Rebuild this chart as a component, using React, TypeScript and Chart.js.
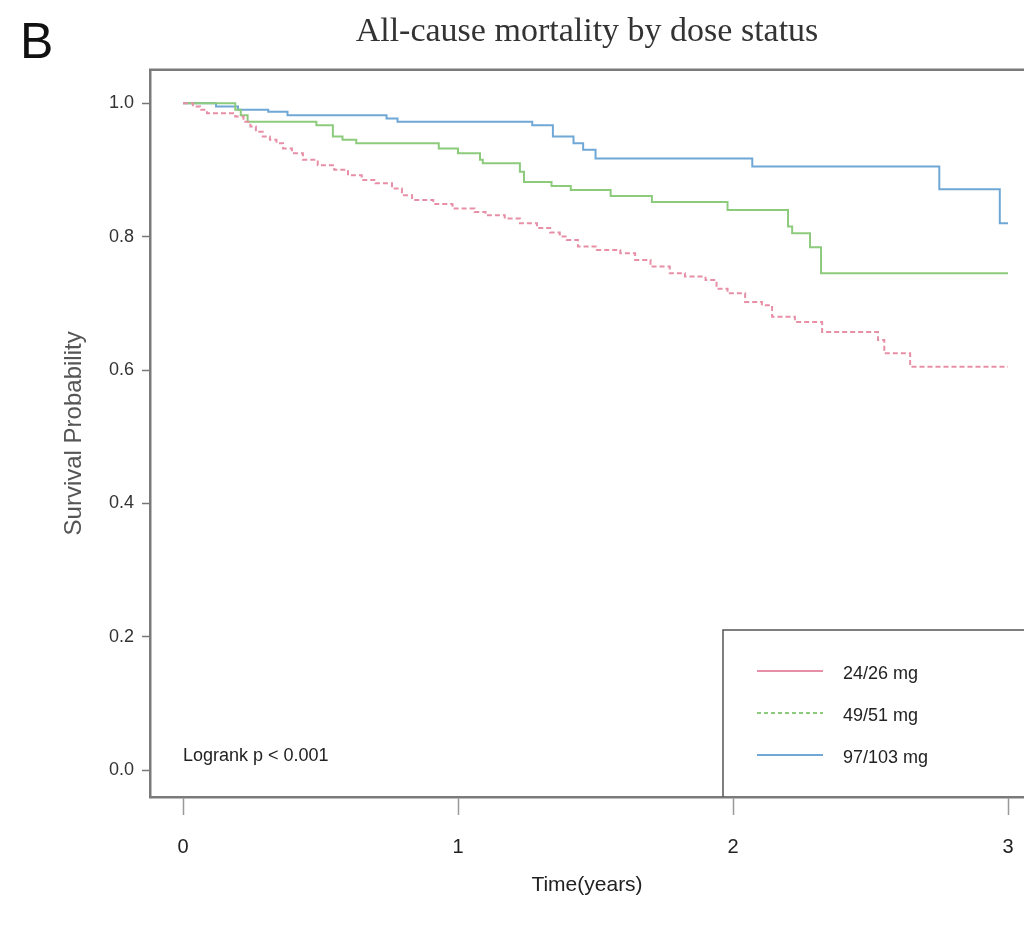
import React, { useEffect, useRef } from "react";
import { Chart, registerables } from "chart.js";

Chart.register(...registerables);

// ---------- data ----------
const chartTitle = "All-cause mortality by dose status";
const panelLabel = "B";
const xAxisTitle = "Time(years)";
const yAxisTitle = "Survival Probability";
const logrankText = "Logrank p < 0.001";

const xTicks = [0, 1, 2, 3];
const yTicks = [0, 0.2, 0.4, 0.6, 0.8, 1.0];

const seriesLabels = ["24/26 mg", "49/51 mg", "97/103 mg"];

// 24/26 mg
const lowTimes = [
  0, 0.036, 0.062, 0.087, 0.19, 0.22, 0.245, 0.265, 0.29, 0.316, 0.34, 0.364,
  0.396, 0.436, 0.49, 0.55, 0.6, 0.65, 0.7, 0.76, 0.796, 0.833, 0.91, 0.98,
  1.06, 1.1, 1.17, 1.225, 1.287, 1.335, 1.37, 1.396, 1.436, 1.505, 1.59, 1.644,
  1.7, 1.77, 1.825, 1.9, 1.94, 1.98, 2.044, 2.105, 2.142, 2.225, 2.324, 2.527,
  2.55, 2.644, 3.0,
];
const lowSurv = [
  1.0, 0.995, 0.99, 0.985, 0.98, 0.972, 0.965, 0.957, 0.95, 0.945, 0.94, 0.932,
  0.925, 0.915, 0.907, 0.9, 0.892, 0.885, 0.88, 0.872, 0.862, 0.855, 0.849, 0.842,
  0.837, 0.832, 0.827, 0.82, 0.813, 0.806, 0.8, 0.795, 0.785, 0.78, 0.775, 0.765,
  0.755, 0.745, 0.74, 0.735, 0.722, 0.715, 0.702, 0.697, 0.68, 0.672, 0.657, 0.645,
  0.625, 0.605, 0.605,
];

// 49/51 mg
const midTimes = [
  0, 0.19, 0.21, 0.235, 0.485, 0.545, 0.58, 0.63, 0.93, 1.0, 1.08, 1.09, 1.225,
  1.24, 1.34, 1.41, 1.555, 1.705, 1.98, 2.2, 2.215, 2.28, 2.32, 3.0,
];
const midSurv = [
  1.0, 0.99, 0.982, 0.972, 0.967, 0.95, 0.945, 0.94, 0.932, 0.925, 0.915, 0.91,
  0.897, 0.882, 0.876, 0.87, 0.861, 0.852, 0.84, 0.815, 0.805, 0.784, 0.745, 0.745,
];

// 97/103 mg
const highTimes = [
  0, 0.12, 0.2, 0.31, 0.38, 0.74, 0.78, 1.27, 1.345, 1.42, 1.455, 1.5, 2.07,
  2.75, 2.97, 3.0,
];
const highSurv = [
  1.0, 0.995, 0.99, 0.987, 0.982, 0.977, 0.972, 0.967, 0.95, 0.94, 0.93, 0.917,
  0.905, 0.871, 0.82, 0.82,
];

const seriesColors = ["#e68fa6", "#8ccb7c", "#6fa8d6"];
const plotDash = [[5, 3], [], []];
const legendDash = [[], [4, 3], []];

const SANS = '"Liberation Sans Narrow", "Liberation Sans", Arial, sans-serif';
const SERIF = '"Liberation Serif", "Times New Roman", serif';

const toPoints = (t: number[], s: number[]) => t.map((x, i) => ({ x, y: s[i] }));

const decorPlugin = {
  id: "decor",
  afterDraw(chart: any) {
    const { ctx, chartArea } = chart;
    ctx.save();
    // top frame line
    ctx.strokeStyle = "#7a7a7a";
    ctx.lineWidth = 2.5;
    ctx.beginPath();
    ctx.moveTo(chartArea.left - 1, chartArea.top);
    ctx.lineTo(chartArea.right, chartArea.top);
    ctx.stroke();

    // panel letter
    ctx.fillStyle = "#111";
    ctx.font = '50px "Liberation Sans", Arial, sans-serif';
    ctx.textAlign = "left";
    ctx.textBaseline = "alphabetic";
    ctx.fillText(panelLabel, 20, 58);

    // logrank text
    ctx.fillStyle = "#222";
    ctx.font = "18px " + SANS;
    ctx.textBaseline = "middle";
    ctx.fillText(logrankText, chartArea.left + 33, chartArea.bottom - 41);

    // legend box
    const bx = chartArea.left + 573;
    const by = chartArea.bottom - 167;
    ctx.strokeStyle = "#555";
    ctx.lineWidth = 1.5;
    ctx.beginPath();
    ctx.moveTo(chartArea.right + 5, by);
    ctx.lineTo(bx, by);
    ctx.lineTo(bx, chartArea.bottom);
    ctx.stroke();

    chart.data.datasets.forEach((ds: any, i: number) => {
      const ly = by + 41 + i * 42;
      ctx.strokeStyle = ds.borderColor;
      ctx.lineWidth = 2;
      ctx.setLineDash(legendDash[i]);
      ctx.beginPath();
      ctx.moveTo(bx + 34, ly);
      ctx.lineTo(bx + 100, ly);
      ctx.stroke();
      ctx.setLineDash([]);
      ctx.fillStyle = "#222";
      ctx.font = "18px " + SANS;
      ctx.textBaseline = "middle";
      ctx.fillText(ds.label, bx + 120, ly + 3);
    });
    ctx.restore();
  },
};

export default function App() {
  const canvasRef = useRef<HTMLCanvasElement | null>(null);

  useEffect(() => {
    const canvas = canvasRef.current;
    if (!canvas) return;
    const allTimes = [lowTimes, midTimes, highTimes];
    const allSurv = [lowSurv, midSurv, highSurv];
    const chart = new Chart(canvas, {
      type: "line",
      data: {
        datasets: seriesLabels.map((label, i) => ({
          label,
          data: toPoints(allTimes[i], allSurv[i]),
          borderColor: seriesColors[i],
          backgroundColor: seriesColors[i],
          borderWidth: 2,
          borderDash: plotDash[i],
          stepped: true,
          pointRadius: 0,
          fill: false,
        })),
      },
      options: {
        animation: false,
        responsive: false,
        events: [],
        layout: { padding: 0 },
        plugins: {
          legend: { display: false },
          tooltip: { enabled: false },
          title: {
            display: true,
            text: chartTitle,
            fullSize: false,
            color: "#333",
            font: { family: SERIF, size: 34, weight: "normal" },
            padding: { top: 12, bottom: 17 },
          },
        },
        scales: {
          x: {
            type: "linear",
            bounds: "data",
            min: -0.12,
            max: 3.058,
            afterBuildTicks: (s: any) => {
              s.ticks = xTicks.map((v) => ({ value: v }));
            },
            afterFit: (s: any) => {
              s.height = 130;
              s.paddingLeft = 0;
              s.paddingRight = 0;
            },
            ticks: {
              autoSkip: false,
              maxRotation: 0,
              padding: 20,
              color: "#222",
              font: { family: SANS, size: 20 },
              callback: (v: any) => String(v),
            },
            grid: {
              drawOnChartArea: false,
              drawTicks: true,
              tickLength: 18,
              tickColor: "#999",
              tickWidth: 1.5,
            },
            border: { display: true, color: "#7a7a7a", width: 2.5 },
            title: {
              display: true,
              text: xAxisTitle,
              color: "#222",
              font: { family: SANS, size: 21 },
              padding: { top: 0, bottom: 29 },
            },
          },
          y: {
            type: "linear",
            bounds: "data",
            min: -0.04,
            max: 1.05,
            afterBuildTicks: (s: any) => {
              s.ticks = yTicks.map((v) => ({ value: v }));
            },
            afterFit: (s: any) => {
              s.width = 150;
              s.paddingTop = 0;
              s.paddingBottom = 0;
            },
            ticks: {
              autoSkip: false,
              padding: 8,
              color: "#333",
              font: { family: SANS, size: 18 },
              callback: (v: any) => Number(v).toFixed(1),
            },
            grid: {
              drawOnChartArea: false,
              drawTicks: true,
              tickLength: 8,
              tickColor: "#777",
              tickWidth: 1.5,
            },
            border: { display: true, color: "#7a7a7a", width: 2.5 },
            title: {
              display: true,
              text: yAxisTitle,
              color: "#555",
              font: { family: '"Liberation Sans", Arial, sans-serif', size: 24 },
              padding: { top: 60, bottom: 0 },
            },
          },
        },
      },
      plugins: [decorPlugin],
    } as any);
    return () => chart.destroy();
  }, []);

  return (
    <div
      style={{
        position: "absolute",
        left: 0,
        top: 0,
        width: 1024,
        height: 927,
        background: "#fff",
      }}
    >
      <canvas ref={canvasRef} width={1024} height={927} style={{ display: "block" }} />
    </div>
  );
}
